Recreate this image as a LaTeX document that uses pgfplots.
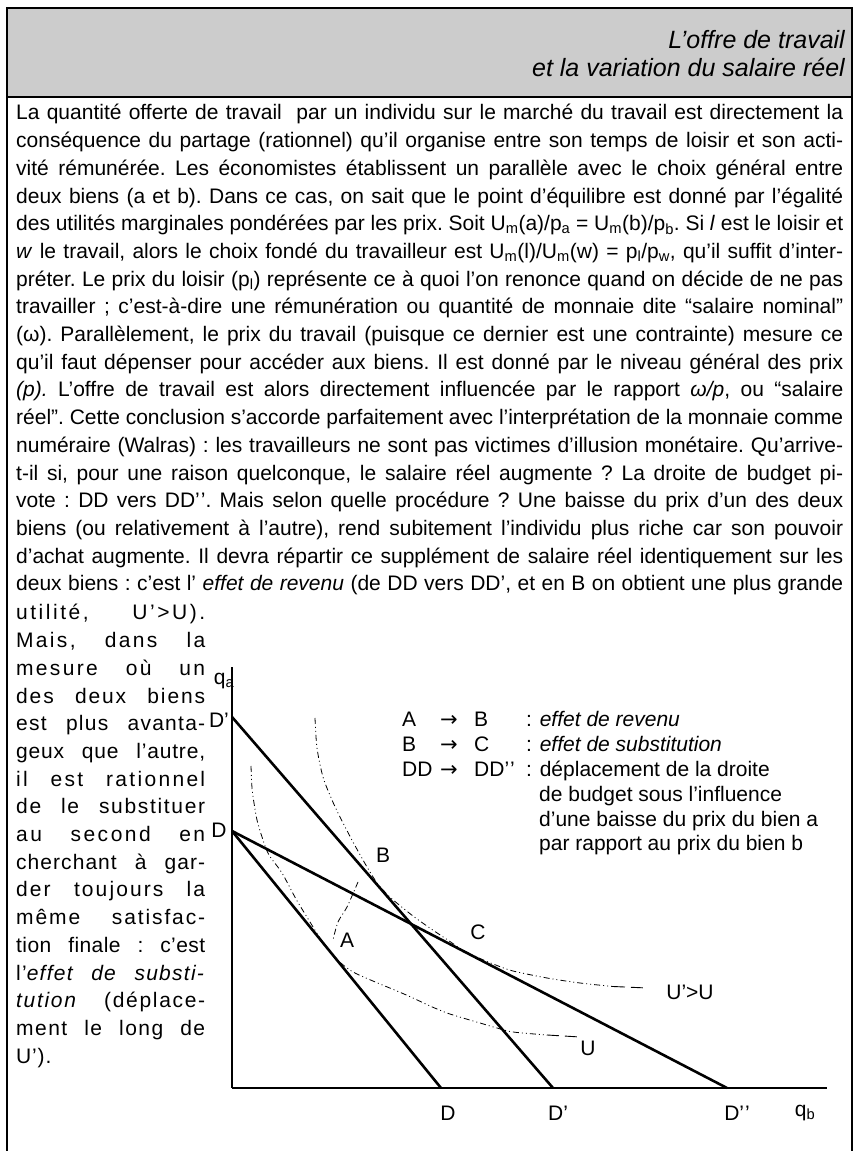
\documentclass[border=0pt]{standalone}
\usepackage{pgfplots}
\pgfplotsset{compat=1.18}
\usepackage{fontspec}
\setmainfont{Liberation Sans}
\newfontfamily\dejavu{DejaVu Sans}
\newcommand\jl[1]{\hbox to 827pt{#1}}
\newcommand\nl[2]{\hbox to 189pt{\addfontfeature{LetterSpace=#1}#2}}
\begin{document}
\begin{tikzpicture}[x=1pt,y=1pt]
\useasboundingbox (0,0) rectangle (858,1151);
\fill[white] (0,0) rectangle (858,1151);
% frame and header
\filldraw[fill=black!20, draw=black, line width=1.2pt] (7,1143) rectangle (852,1054);
\draw[line width=1.2pt] (7,1054) -- (7,0);
\draw[line width=1.2pt] (852,1054) -- (852,0);
\node[anchor=base east, inner sep=0, font=\fontsize{25}{28}\selectfont\itshape] at (845,1102) {L’offre de travail};
\node[anchor=base east, inner sep=0, font=\fontsize{25}{28}\selectfont\itshape] at (845,1074) {et la variation du salaire réel};
% body text
\node[anchor=base west, inner sep=0, text width=827pt, font=\fontsize{21}{27.7}\selectfont] at (16,1031) {\frenchspacing\spaceskip=0.278em plus 0.5em minus 0.14em
\jl{La quantité offerte de travail\ \ par un individu sur le marché du travail est directement la}
\jl{conséquence du partage (rationnel) qu’il organise entre son temps de loisir et son acti-}
\jl{vité rémunérée. Les économistes établissent un parallèle avec le choix général entre}
\jl{deux biens (a et b). Dans ce cas, on sait que le point d’équilibre est donné par l’égalité}
\jl{des utilités marginales pondérées par les prix. Soit U\textsubscript{m}(a)/p\textsubscript{a} = U\textsubscript{m}(b)/p\textsubscript{b}. Si \textit{l} est le loisir et}
\jl{\textit{w} le travail, alors le choix fondé du travailleur est U\textsubscript{m}(l)/U\textsubscript{m}(w) = p\textsubscript{l}/p\textsubscript{w}, qu’il suffit d’inter-}
\jl{préter. Le prix du loisir (p\textsubscript{l}) représente ce à quoi l’on renonce quand on décide de ne pas}
\jl{travailler ; c’est-à-dire une rémunération ou quantité de monnaie dite “salaire nominal”}
\jl{(ω). Parallèlement, le prix du travail (puisque ce dernier est une contrainte) mesure ce}
\jl{qu’il faut dépenser pour accéder aux biens. Il est donné par le niveau général des prix}
\jl{\textit{(p).} L’offre de travail est alors directement influencée par le rapport \textit{ω/p}, ou “salaire}
\jl{réel”. Cette conclusion s’accorde parfaitement avec l’interprétation de la monnaie comme}
\jl{numéraire (Walras) : les travailleurs ne sont pas victimes d’illusion monétaire. Qu’arrive-}
\jl{t-il si, pour une raison quelconque, le salaire réel augmente ? La droite de budget pi-}
\jl{vote : DD vers DD’\kern1pt’. Mais selon quelle procédure ? Une baisse du prix d’un des deux}
\jl{biens (ou relativement à l’autre), rend subitement l’individu plus riche car son pouvoir}
\jl{d’achat augmente. Il devra répartir ce supplément de salaire réel identiquement sur les}
\jl{deux biens : c’est l’ \textit{effet de revenu} (de DD vers DD’, et en B on obtient une plus grande}
};
% narrow column
\node[anchor=base west, inner sep=0, text width=189pt, font=\fontsize{21}{27.7}\selectfont] at (16,531) {\frenchspacing\spaceskip=0.278em plus 0.5em minus 0.14em
\nl{12}{utilité, U’>U).}
\nl{11}{Mais, dans la}
\nl{11}{mesure où un}
\nl{9}{des deux biens}
\nl{6}{est plus avanta-}
\nl{4}{geux que l’autre,}
\nl{11}{il est rationnel}
\nl{8}{de le substituer}
\nl{12}{au second en}
\nl{5}{cherchant à gar-}
\nl{10}{der toujours la}
\nl{9}{même satisfac-}
\nl{2}{tion finale : c’est}
\nl{6}{l’\textit{effet de substi-}}
\nl{8}{\textit{tution} (déplace-}
\nl{7}{ment le long de}
\hbox{\addfontfeature{LetterSpace=4}U’).}
};
% diagram
\begin{axis}[at={(232,63)}, anchor=south west, scale only axis,
  width=595pt, height=421pt, xmin=0, xmax=595, ymin=0, ymax=421,
  axis lines=left, axis line style={line width=2.4pt,-},
  xtick=\empty, ytick=\empty, clip=false]
\addplot[line width=2.6pt] coordinates {(0,257) (209,0)};
\addplot[line width=2.6pt] coordinates {(0,371) (321,0)};
\addplot[line width=2.6pt] coordinates {(0,257) (495,0)};
% U
\addplot[line width=0.8pt, smooth, dash pattern=on 6pt off 3pt on 1pt off 3pt on 1pt off 3pt] coordinates {
(19,322) (20,300) (22,285) (25,268) (31,248) (37,233) (50,215) (64,189) (78,166) (88,150) (100,134)
(110,124) (121,116) (134,110) (148,104) (165,97) (181,90) (198,82) (215,75) (231,70) (248,65) (265,60) (281,56) (315,53)};
\addplot[line width=0.9pt, dash pattern=on 12pt off 6pt] coordinates {(315,53) (348,51)};
\addplot[line width=0.8pt, smooth, dash pattern=on 6pt off 3pt on 1pt off 3pt] coordinates {(126,206) (115,181) (106,166) (101,148)};
% U'
\addplot[line width=0.8pt, smooth, dash pattern=on 6pt off 3pt on 1pt off 3pt on 1pt off 3pt] coordinates {
(83,370) (85,340) (91,311) (100,288) (108,271) (121,246) (135,221) (145,205) (152,197) (160,189) (181,172) (200,158.5) (215,148.5) (230,138.5) (248,129.5) (265,122.5) (281,117) (315,110) (348,105) (381,101.5)};
\addplot[line width=0.9pt, dash pattern=on 12pt off 6pt] coordinates {(381,101.5) (415,100)};
\end{axis}
% diagram labels
\begin{scope}[every node/.style={inner sep=0, font=\fontsize{21}{24}\selectfont}]
\node at (224,470) {q\textsubscript{a}};
\node at (219,431) {D’};
\node at (219,321) {D};
\node at (383,296) {B};
\node at (478,219) {C};
\node at (347,211) {A};
\node at (690,159) {U’>U};
\node at (588,103) {U};
\node at (448,38) {D};
\node at (558,38) {D’};
\node at (737,38) {D’\kern1pt’};
\node at (805,38) {q\textsubscript{b}};
% legend
\node[anchor=base west] at (402,424) {A};
\node[anchor=base west] at (440,424) {\dejavu →};
\node[anchor=base west] at (474,424) {B};
\node[anchor=base west] at (526,424) {: \textit{effet de revenu}};
\node[anchor=base west] at (402,399) {B};
\node[anchor=base west] at (440,399) {\dejavu →};
\node[anchor=base west] at (474,399) {C};
\node[anchor=base west] at (526,399) {: \textit{effet de substitution}};
\node[anchor=base west] at (402,374) {DD};
\node[anchor=base west] at (440,374) {\dejavu →};
\node[anchor=base west] at (474,374) {DD’\kern1pt’};
\node[anchor=base west] at (526,374) {: déplacement de la droite};
\node[anchor=base west] at (539,349) {de budget sous l’influence};
\node[anchor=base west] at (539,324) {d’une baisse du prix du bien a};
\node[anchor=base west] at (539,300) {par rapport au prix du bien b};
\end{scope}
\end{tikzpicture}
\end{document}
